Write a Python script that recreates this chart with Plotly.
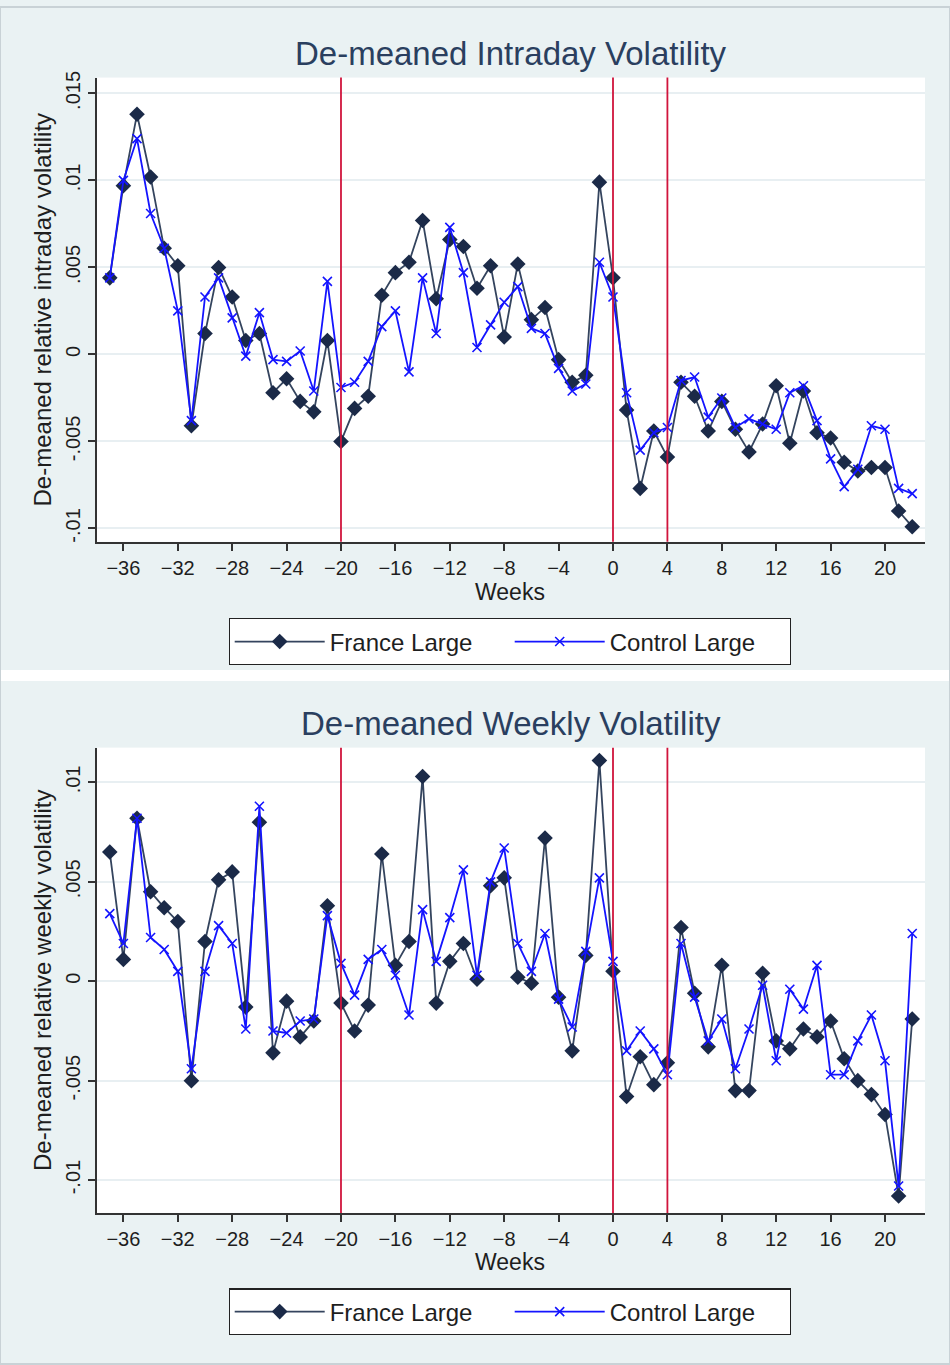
import plotly.graph_objects as go

weeks = list(range(-37, 23))

intraday_france = [0.0044, 0.0097, 0.0138, 0.0102, 0.0061, 0.0051, -0.0041, 0.0012, 0.0050, 0.0033,
                   0.0008, 0.0012, -0.0022, -0.0014, -0.0027, -0.0033, 0.0008, -0.0050, -0.0031, -0.0024,
                   0.0034, 0.0047, 0.0053, 0.0077, 0.0032, 0.0066, 0.0062, 0.0038, 0.0051, 0.0010,
                   0.0052, 0.0020, 0.0027, -0.0003, -0.0016, -0.0012, 0.0099, 0.0044, -0.0032, -0.0077,
                   -0.0044, -0.0059, -0.0016, -0.0024, -0.0044, -0.0027, -0.0043, -0.0056, -0.0040, -0.0018,
                   -0.0051, -0.0021, -0.0045, -0.0048, -0.0062, -0.0067, -0.0065, -0.0065, -0.0090, -0.0099]
intraday_control = [0.0044, 0.0100, 0.0124, 0.0081, 0.0061, 0.0025, -0.0038, 0.0033, 0.0044, 0.0021,
                    -0.0001, 0.0024, -0.0003, -0.0004, 0.0002, -0.0021, 0.0042, -0.0019, -0.0016, -0.0004,
                    0.0016, 0.0025, -0.0010, 0.0044, 0.0012, 0.0073, 0.0047, 0.0004, 0.0017, 0.0030,
                    0.0039, 0.0015, 0.0012, -0.0008, -0.0021, -0.0017, 0.0053, 0.0033, -0.0022, -0.0055,
                    -0.0045, -0.0042, -0.0015, -0.0013, -0.0036, -0.0025, -0.0042, -0.0037, -0.0040, -0.0043,
                    -0.0022, -0.0018, -0.0038, -0.0060, -0.0076, -0.0066, -0.0041, -0.0043, -0.0077, -0.0080]

weekly_france = [0.0065, 0.0011, 0.0082, 0.0045, 0.0037, 0.0030, -0.0050, 0.0020, 0.0051, 0.0055,
                 -0.0013, 0.0080, -0.0036, -0.0010, -0.0028, -0.0020, 0.0038, -0.0011, -0.0025, -0.0012,
                 0.0064, 0.0008, 0.0020, 0.0103, -0.0011, 0.0010, 0.0019, 0.0001, 0.0048, 0.0052,
                 0.0002, -0.0001, 0.0072, -0.0008, -0.0035, 0.0013, 0.0111, 0.0005, -0.0058, -0.0038,
                 -0.0052, -0.0041, 0.0027, -0.0006, -0.0033, 0.0008, -0.0055, -0.0055, 0.0004, -0.0030,
                 -0.0034, -0.0024, -0.0028, -0.0020, -0.0039, -0.0050, -0.0057, -0.0067, -0.0108, -0.0019]
weekly_control = [0.0034, 0.0019, 0.0082, 0.0022, 0.0016, 0.0005, -0.0044, 0.0005, 0.0028, 0.0019,
                  -0.0024, 0.0088, -0.0025, -0.0026, -0.0020, -0.0019, 0.0033, 0.0009, -0.0007, 0.0011,
                  0.0016, 0.0003, -0.0017, 0.0036, 0.0010, 0.0032, 0.0056, 0.0003, 0.0050, 0.0067,
                  0.0019, 0.0005, 0.0024, -0.0009, -0.0023, 0.0015, 0.0052, 0.0010, -0.0035, -0.0025,
                  -0.0034, -0.0047, 0.0019, -0.0008, -0.0030, -0.0019, -0.0044, -0.0024, -0.0002, -0.0040,
                  -0.0004, -0.0014, 0.0008, -0.0047, -0.0047, -0.0030, -0.0017, -0.0040, -0.0103, 0.0024]

x_ticks = list(range(-36, 21, 4))
y_ticks_top = [-0.01, -0.005, 0, 0.005, 0.01, 0.015]
y_labels_top = ["-.01", "-.005", "0", ".005", ".01", ".015"]
y_ticks_bot = [-0.01, -0.005, 0, 0.005, 0.01]
y_labels_bot = ["-.01", "-.005", "0", ".005", ".01"]
event_weeks = [-20, 0, 4]

FONT = "Liberation Sans, Arial, sans-serif"
BG = "#eaf2f3"
NAVY = "#1b2a48"
NAVY_LINE = "#34445e"
BLUE = "#1414ff"
RED = "#d0143c"
GRID = "#e8eff2"
TXT = "#1e1e1e"
TITLE = "#2a3f5f"

fig = go.Figure()

def add_pair(fr, ct, xa, ya, leg):
    fig.add_trace(go.Scatter(x=weeks, y=fr, mode="lines+markers", name="France Large",
                             line=dict(color=NAVY_LINE, width=1.8),
                             marker=dict(symbol="diamond", size=12, color=NAVY),
                             xaxis=xa, yaxis=ya, legend=leg))
    fig.add_trace(go.Scatter(x=weeks, y=ct, mode="lines+markers", name="Control Large",
                             line=dict(color=BLUE, width=1.8),
                             marker=dict(symbol="x-thin", size=9, color=BLUE,
                                         line=dict(color=BLUE, width=1.6)),
                             xaxis=xa, yaxis=ya, legend=leg))

add_pair(intraday_france, intraday_control, "x", "y", "legend")
add_pair(weekly_france, weekly_control, "x2", "y2", "legend2")

W, H = 950, 1365
def px_x(p):
    return p / W
def px_y(p):
    return 1 - p / H

xcommon = dict(range=[-37.94, 22.94], tickvals=x_ticks, ticks="outside", ticklen=7,
               tickwidth=1.5, tickcolor="#333", showline=True, linecolor="#333", linewidth=1.5,
               showgrid=False, zeroline=False, tickfont=dict(size=20, color=TXT, family=FONT))
ycommon = dict(ticks="outside", ticklen=7, tickwidth=1.5, tickcolor="#333", showline=True,
               linecolor="#333", linewidth=1.5, showgrid=True, gridcolor=GRID, gridwidth=2,
               zeroline=False, tickangle=-90, tickfont=dict(size=20, color=TXT, family=FONT))

legcommon = dict(orientation="h", xanchor="center", yanchor="middle",
                 bgcolor="white", bordercolor="#222", borderwidth=1.2, itemwidth=90,
                 entrywidth=175, font=dict(size=24, color=TXT), traceorder="normal")

fig.update_layout(
    width=W, height=H,
    margin=dict(l=0, r=0, t=0, b=0),
    paper_bgcolor=BG, plot_bgcolor="white",
    font=dict(family=FONT, color=TXT),
    xaxis=dict(domain=[px_x(97), px_x(925)], anchor="y", **xcommon),
    yaxis=dict(domain=[px_y(538), px_y(71)], anchor="x", range=[-0.01077, 0.01591],
               tickvals=y_ticks_top, ticktext=y_labels_top,
               title=dict(text="De-meaned relative intraday volatility",
                          font=dict(size=24, color=TXT), standoff=4), **ycommon),
    xaxis2=dict(domain=[px_x(97), px_x(925)], anchor="y2", **xcommon),
    yaxis2=dict(domain=[px_y(1213), px_y(745)], anchor="x2", range=[-0.01165, 0.01175],
                tickvals=y_ticks_bot, ticktext=y_labels_bot,
                title=dict(text="De-meaned relative weekly volatility",
                           font=dict(size=24, color=TXT), standoff=4), **ycommon),
    legend=dict(x=px_x(510), y=px_y(638.5), **legcommon),
    legend2=dict(x=px_x(510), y=px_y(1312.5), **legcommon),
)

# separation band between the two panels and outer border
fig.add_shape(type="rect", xref="paper", yref="paper", x0=0, x1=1, y0=px_y(678), y1=px_y(667),
              fillcolor="white", line=dict(width=0), layer="below")
fig.add_shape(type="rect", xref="paper", yref="paper", x0=0, x1=1, y0=0, y1=1,
              fillcolor="rgba(0,0,0,0)", line=dict(color="#c9d2d6", width=2))

for xa, ya in (("x", "y"), ("x2", "y2")):
    for wk in event_weeks:
        fig.add_shape(type="line", xref=xa, yref=f"{ya} domain", x0=wk, x1=wk, y0=0, y1=1,
                      line=dict(color=RED, width=1.8))

annots = [
    ("De-meaned Intraday Volatility", 511, 47, 33, TITLE),
    ("De-meaned Weekly Volatility", 511, 721, 33, TITLE),
    ("Weeks", 510, 588, 23, TXT),
    ("Weeks", 510, 1262, 23, TXT),
]
for text, xp, yp, size, col in annots:
    fig.add_annotation(text=text, xref="paper", yref="paper", x=px_x(xp), y=px_y(yp),
                       xanchor="center", yanchor="middle", showarrow=False,
                       font=dict(size=size, color=col, family=FONT))

fig.write_html("out.html", config={"displayModeBar": False},
               post_script="document.body.style.margin='0';document.body.style.overflow='hidden';")
